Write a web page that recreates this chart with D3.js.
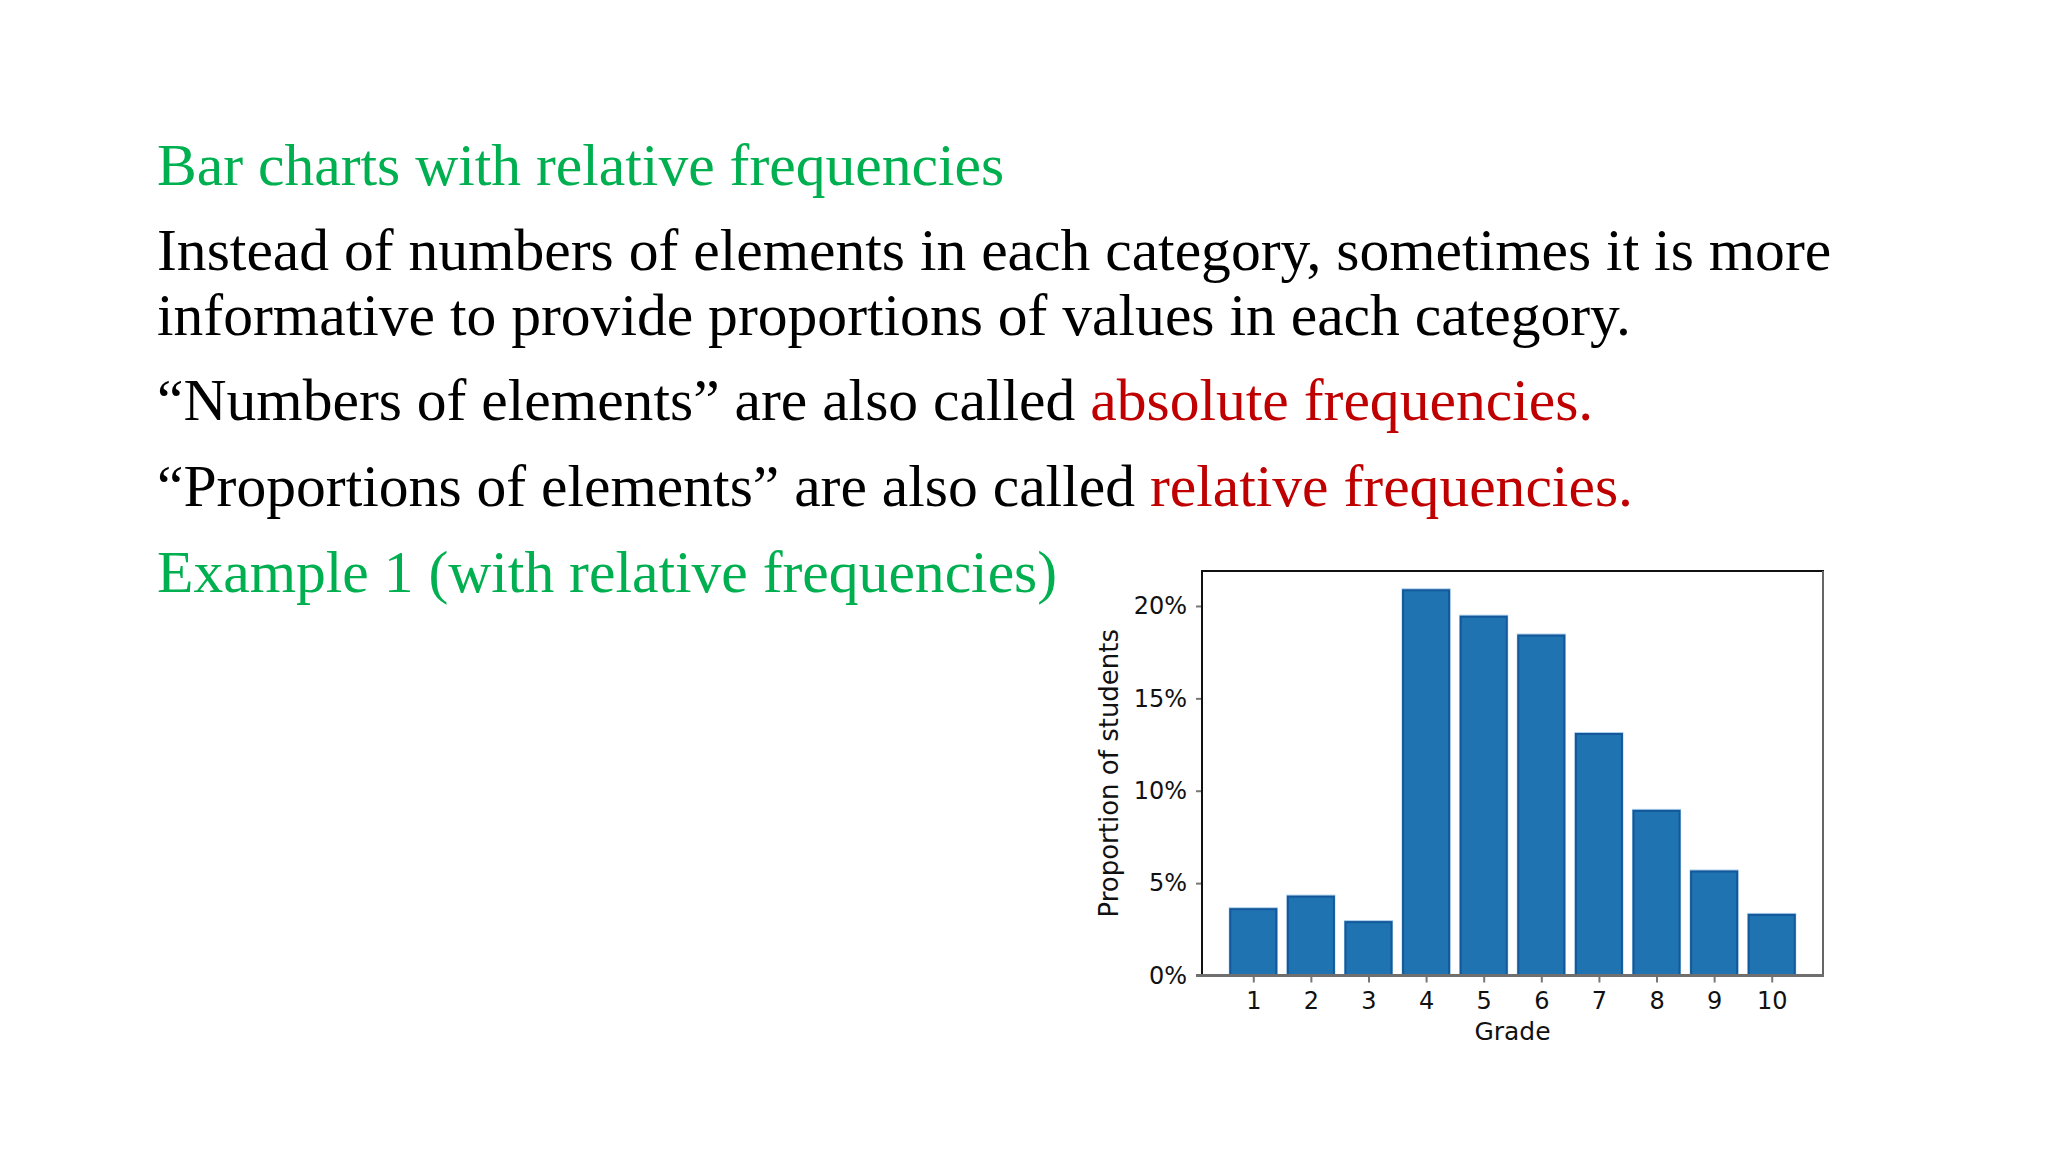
<!DOCTYPE html>
<html>
<head>
<meta charset="utf-8">
<script src="https://cdn.jsdelivr.net/npm/d3@7"></script>
<style>
  html, body { margin: 0; padding: 0; background: #ffffff; }
  svg { display: block; }
</style>
</head>
<body>
<svg id="chart" width="2048" height="1152"></svg>
<script>
// ---- data ----
const grades = ["1", "2", "3", "4", "5", "6", "7", "8", "9", "10"];
const proportions = [3.59, 4.27, 2.89, 20.85, 19.42, 18.40, 13.07, 8.91, 5.63, 3.28];
const yTicks = [0, 5, 10, 15, 20];
const yTickLabels = ["0%", "5%", "10%", "15%", "20%"];
const xLabel = "Grade";
const yLabel = "Proportion of students";

const textLines = [
  [{t: "Bar charts with relative frequencies", c: "green"}],
  [{t: "Instead of numbers of elements in each category, sometimes it is more", c: "black"}],
  [{t: "informative to provide proportions of values in each category.", c: "black"}],
  [{t: "\u201CNumbers of elements\u201D are also called ", c: "black"}, {t: "absolute frequencies.", c: "red"}],
  [{t: "\u201CProportions of elements\u201D are also called ", c: "black"}, {t: "relative frequencies.", c: "red"}],
  [{t: "Example 1 (with relative frequencies)", c: "green"}]
];

// ---- layout ----
const colors = {green: "#00b050", black: "#000000", red: "#c00000"};
const baselines = [185, 270, 335, 420, 506, 592];
const svg = d3.select("#chart");
svg.append("rect").attr("width", 2048).attr("height", 1152).attr("fill", "#fff");

const txt = svg.append("g")
  .attr("font-family", "'Liberation Serif', 'Times New Roman', serif")
  .attr("font-size", 59.6);
textLines.forEach((line, i) => {
  const t = txt.append("text").attr("x", 157).attr("y", baselines[i]);
  line.forEach(seg => t.append("tspan").attr("fill", colors[seg.c]).text(seg.t));
});

// ---- chart ----
const L = 1202, R = 1823, T = 571, B = 975.5;
const n = grades.length;
const barW = 0.8;
const x = d3.scaleLinear().domain([1 - barW / 2 - 0.049 * n, n + barW / 2 + 0.049 * n]).range([L, R]);
const yMax = d3.max(proportions) * 1.05;
const y = d3.scaleLinear().domain([0, yMax]).range([B, T]);

const chart = svg.append("g").attr("font-family", "'DejaVu Sans', sans-serif");

// bars: light halo behind, then bar
const bw = x(barW) - x(0);
chart.append("g").selectAll("rect").data(proportions).join("rect")
  .attr("x", (d, i) => x(i + 1) - bw / 2 - 1.5)
  .attr("y", d => y(d) - 2)
  .attr("width", bw + 3)
  .attr("height", d => B - y(d) + 2)
  .attr("fill", "#a9cdea");
chart.append("g").selectAll("rect").data(proportions).join("rect")
  .attr("x", (d, i) => x(i + 1) - bw / 2)
  .attr("y", d => y(d))
  .attr("width", bw)
  .attr("height", d => B - y(d))
  .attr("fill", "#1f73b1")
  .attr("stroke", "#12589a")
  .attr("stroke-width", 2);

// axes
const yAxis = d3.axisLeft(y).tickValues(yTicks)
  .tickFormat((d, i) => yTickLabels[i]).tickSize(6).tickPadding(9);
const gy = chart.append("g").attr("transform", `translate(${L},0)`).call(yAxis);
gy.select(".domain").remove();
gy.selectAll(".tick line").attr("stroke", "#777").attr("stroke-width", 2);
gy.selectAll(".tick text").attr("font-size", 24).attr("fill", "#111").attr("font-family", "'DejaVu Sans', sans-serif");

const xAxis = d3.axisBottom(x).tickValues(d3.range(1, n + 1))
  .tickFormat((d, i) => grades[i]).tickSize(7).tickPadding(9);
const gx = chart.append("g").attr("transform", `translate(0,${B})`).call(xAxis);
gx.select(".domain").remove();
gx.selectAll(".tick line").attr("stroke", "#777").attr("stroke-width", 2);
gx.selectAll(".tick text").attr("font-size", 24).attr("fill", "#111").attr("font-family", "'DejaVu Sans', sans-serif");

// spines
chart.append("line").attr("x1", L).attr("x2", L).attr("y1", T).attr("y2", B).attr("stroke", "#111").attr("stroke-width", 2);
chart.append("line").attr("x1", L - 1).attr("x2", R + 1).attr("y1", T).attr("y2", T).attr("stroke", "#111").attr("stroke-width", 2);
chart.append("line").attr("x1", R).attr("x2", R).attr("y1", T).attr("y2", B).attr("stroke", "#666").attr("stroke-width", 2);
chart.append("line").attr("x1", L - 6).attr("x2", R + 1).attr("y1", B).attr("y2", B).attr("stroke", "#6f6f6f").attr("stroke-width", 3);

// axis labels
chart.append("text").attr("x", (L + R) / 2).attr("y", 1040)
  .attr("text-anchor", "middle").attr("font-size", 25).attr("fill", "#111").text(xLabel);
chart.append("text").attr("transform", `translate(1118,${(T + B) / 2}) rotate(-90)`)
  .attr("text-anchor", "middle").attr("font-size", 26).attr("fill", "#111").text(yLabel);
</script>
</body>
</html>
